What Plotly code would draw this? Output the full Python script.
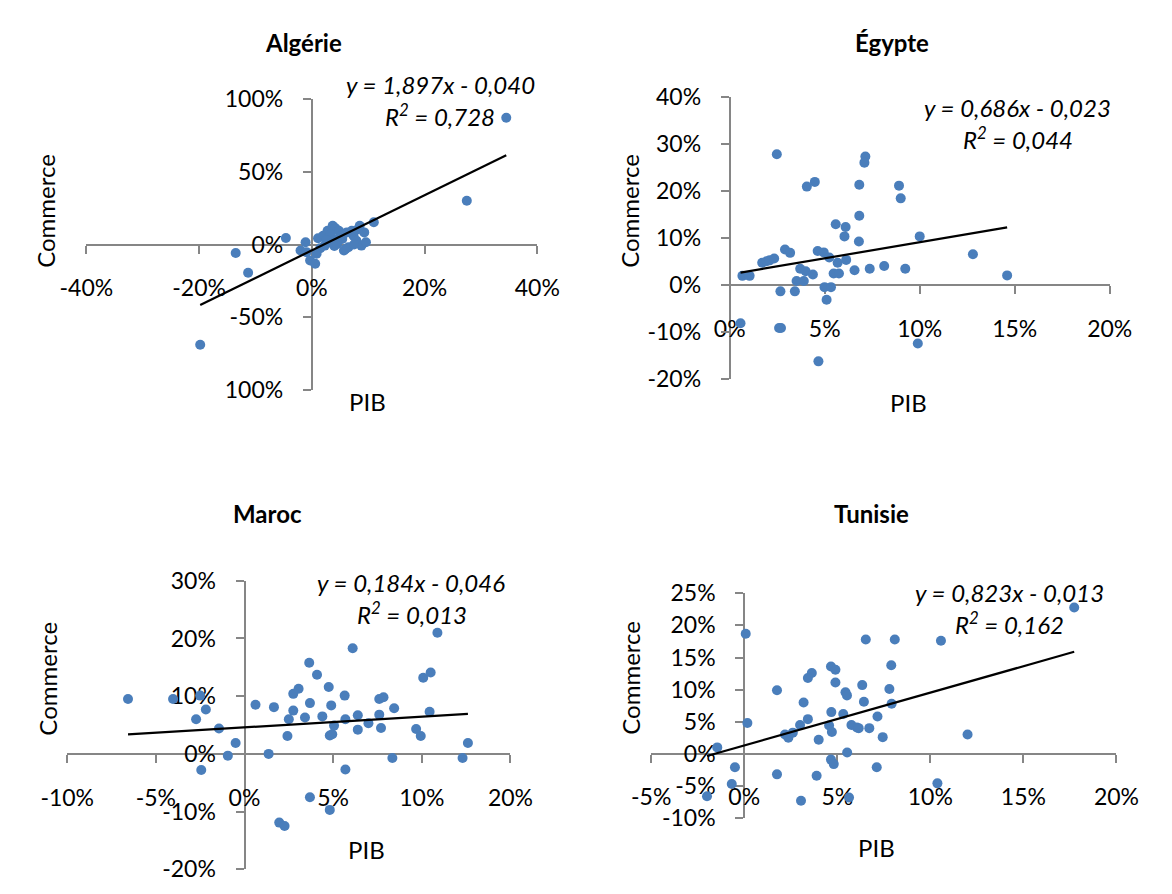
import plotly.graph_objects as go

W, H = 1172, 894

# ---------------- Data (values in %) ----------------
alg_x = [34.5, 27.5, 11.0, -4.6, -13.5, -11.3, -19.8,
         -1.1, -2.0, -0.95, -0.3, 0.6, 0.85, 1.1, 2.0, 2.8, 3.7, 4.2, 4.8, 3.1,
         2.3, 3.7, 5.4, 5.7, 6.5, 7.4, 7.9, 8.5, 8.8, 9.3, 9.6, 7.1, 4.5, 6.2,
         1.5, 3.3, 5.0, 6.0, 7.5, 8.2, 4.0, 2.6]
alg_y = [87.3, 30.2, 15.4, 4.5, -5.8, -19.4, -69.0,
         1.6, -4.1, -5.2, -10.9, -13.2, -6.3, 4.4, 6.1, 9.5, 13.0, 11.2, 9.5, 1.6,
         -0.7, 3.9, 3.9, -4.1, -1.8, 6.1, 2.7, 13.0, -0.7, 8.4, 1.6, 9.5, 0.5, 8.4,
         -2.5, 7.0, 5.5, -3.0, 0.0, 10.5, -1.0, 3.0]

egy_x = [2.48, 0.57, 2.6, 2.7, 4.67, 9.9, 7.14, 7.09, 4.48, 4.06, 6.82, 8.91, 9.0,
         6.82, 5.58, 6.1, 6.04, 6.8, 10.0, 12.8, 14.6, 2.91, 3.18, 4.63, 4.95, 5.24,
         1.71, 1.94, 2.1, 2.34, 5.68, 6.13, 3.71, 4.0, 4.38, 5.47, 5.75, 6.57, 7.37,
         8.13, 9.24, 0.67, 1.05, 3.52, 3.9, 2.67, 3.43, 4.99, 5.33, 5.1]
egy_y = [27.9, -8.1, -9.1, -9.1, -16.2, -12.4, 27.4, 26.1, 22.0, 21.0, 21.4, 21.2, 18.5,
         14.8, 13.0, 12.4, 10.4, 9.3, 10.4, 6.6, 2.1, 7.6, 6.9, 7.3, 7.0, 5.9,
         4.8, 5.1, 5.3, 5.7, 4.8, 5.4, 3.5, 3.0, 2.3, 2.5, 2.5, 3.2, 3.5,
         4.1, 3.5, 2.0, 2.0, 0.9, 0.9, -1.3, -1.3, -0.4, -0.4, -3.1]

mar_x = [-6.57, -4.03, -2.5, -2.73, -2.18, -1.44, -0.5, -0.94, -2.44, 0.62, 1.36, 1.66,
         1.96, 2.26, 2.42, 2.5, 2.75, 2.75, 3.05, 3.41, 3.65, 3.69, 3.69, 4.09, 4.39,
         4.75, 4.89, 4.81, 4.95, 5.05, 4.81, 5.65, 5.69, 5.69, 6.1, 6.39, 6.39, 6.99,
         7.6, 7.84, 7.6, 7.7, 8.44, 8.34, 9.68, 9.94, 10.08, 10.5, 10.44, 10.88, 12.3, 12.6]
mar_y = [9.5, 9.5, 10.1, 6.0, 7.7, 4.4, 1.9, -0.3, -2.8, 8.5, 0.0, 8.1,
         -11.9, -12.5, 3.1, 6.0, 7.5, 10.4, 11.3, 6.3, 15.8, 8.8, -7.5, 13.7, 6.5,
         11.6, 8.4, 3.2, 3.4, 4.9, -9.7, 10.1, 6.0, -2.7, 18.3, 6.7, 4.2, 5.3,
         9.5, 9.8, 6.8, 4.5, 7.9, -0.7, 4.3, 3.1, 13.2, 14.1, 7.3, 21.0, -0.7, 1.9]

tun_x = [17.73, 0.08, 6.53, 8.09, 10.57, 4.66, 4.9, 7.9, 3.63, 3.42, 4.9, 1.76, 6.34,
         7.8, 5.44, 5.52, 3.19, 6.43, 7.92, 4.68, 5.32, 0.17, 3.42, 3.0, 7.16, 5.76,
         6.05, 6.15, 4.56, 4.71, 6.72, 2.19, 2.37, 2.61, 4.0, 7.44, 12.0, -1.45, 5.53,
         4.66, 4.81, -0.5, 1.76, 3.89, 7.12, -0.67, -2.0, 3.05, 5.63, 10.38]
tun_y = [22.8, 18.7, 17.8, 17.8, 17.6, 13.6, 13.1, 13.8, 12.6, 11.8, 11.1, 9.9, 10.7,
         10.1, 9.6, 9.1, 8.0, 8.1, 7.8, 6.5, 6.2, 4.8, 5.4, 4.5, 5.8, 4.5,
         4.1, 4.0, 4.4, 3.4, 4.0, 3.0, 2.5, 3.3, 2.2, 2.6, 3.0, 1.0, 0.2,
         -0.9, -1.6, -2.1, -3.2, -3.4, -2.1, -4.7, -6.6, -7.3, -6.8, -4.6]

titles = ["Algérie", "Égypte", "Maroc", "Tunisie"]
slopes = [1.897, 0.686, 0.184, 0.823]
intercepts = [-4.0, 2.3, 4.6, 1.3]          # as drawn, in %
eq_lines = ["y = 1,897x - 0,040", "y = 0,686x - 0,023", "y = 0,184x - 0,046", "y = 0,823x - 0,013"]
r2_vals = ["0,728", "0,044", "0,013", "0,162"]

alg_xt = [-40, -20, 0, 20, 40]
alg_xl = ["-40%", "-20%", "0%", "20%", "40%"]
alg_yt = [-100, -50, 0, 50, 100]
alg_yl = ["100%", "-50%", "0%", "50%", "100%"]
egy_xt = [0, 5, 10, 15, 20]
egy_xl = ["0%", "5%", "10%", "15%", "20%"]
egy_yt = [-20, -10, 0, 10, 20, 30, 40]
egy_yl = ["-20%", "-10%", "0%", "10%", "20%", "30%", "40%"]
mar_xt = [-10, -5, 0, 5, 10, 15]
mar_xl = ["-10%", "-5%", "0%", "5%", "10%", "20%"]
mar_yt = [-20, -10, 0, 10, 20, 30]
mar_yl = ["-20%", "-10%", "0%", "10%", "20%", "30%"]
tun_xt = [-5, 0, 5, 10, 15, 20]
tun_xl = ["-5%", "0%", "5%", "10%", "15%", "20%"]
tun_yt = [-10, -5, 0, 5, 10, 15, 20, 25]
tun_yl = ["-10%", "-5%", "0%", "5%", "10%", "15%", "20%", "25%"]

# ---------------- Layout helpers ----------------
FONT = "Lato"
FS = 23
AXC = "#868686"
DOT = "#4A7EBB"

panels = [
    dict(x=alg_x, y=alg_y, xr=[-40, 40], yr=[-100, 100], xt=alg_xt, xl=alg_xl, yt=alg_yt, yl=alg_yl,
         box=(62, 533, 87, 387), title=(289, 28), ylab=(20, 202), xlab=(356, 399),
         eq1=(432, 72), eq2=(431, 103)),
    dict(x=egy_x, y=egy_y, xr=[0, 20], yr=[-20, 40], xt=egy_xt, xl=egy_xl, yt=egy_yt, yl=egy_yl,
         box=(734, 1131, 85, 376), title=(904, 28), ylab=(630, 202), xlab=(921, 400),
         eq1=(1035, 95), eq2=(1035, 127)),
    dict(x=mar_x, y=mar_y, xr=[-10, 15], yr=[-20, 30], xt=mar_xt, xl=mar_xl, yt=mar_yt, yl=mar_yl,
         box=(42, 505, 584, 882), title=(251, 515), ylab=(21, 685), xlab=(355, 861),
         eq1=(401, 586), eq2=(402, 617)),
    dict(x=tun_x, y=tun_y, xr=[-5, 20], yr=[-10, 25], xt=tun_xt, xl=tun_xl, yt=tun_yt, yl=tun_yl,
         box=(652, 1138, 597, 829), title=(882, 515), ylab=(630, 684), xlab=(887, 859),
         eq1=(1026, 596), eq2=(1026, 628)),
]

def px(xp):
    return xp / W

def py(yp):
    return 1 - yp / H

fig = go.Figure()
annotations = []
layout_axes = {}

for i, p in enumerate(panels):
    n = "" if i == 0 else str(i + 1)
    xa, ya = "x" + n, "y" + n
    l, r, t, b = p["box"]
    xdom = [px(l), px(r)]
    ydom = [py(b), py(t)]
    xzero = xdom[0] + (0 - p["xr"][0]) / (p["xr"][1] - p["xr"][0]) * (xdom[1] - xdom[0])
    yzero = ydom[0] + (0 - p["yr"][0]) / (p["yr"][1] - p["yr"][0]) * (ydom[1] - ydom[0])

    fig.add_trace(go.Scatter(x=p["x"], y=p["y"], mode="markers", xaxis=xa, yaxis=ya,
                             marker=dict(color=DOT, size=10, line=dict(width=0)),
                             showlegend=False, hoverinfo="skip"))
    xmin, xmax = min(p["x"]), max(p["x"])
    fig.add_trace(go.Scatter(x=[xmin, xmax],
                             y=[slopes[i] * xmin + intercepts[i], slopes[i] * xmax + intercepts[i]],
                             mode="lines", xaxis=xa, yaxis=ya,
                             line=dict(color="black", width=2.2),
                             showlegend=False, hoverinfo="skip"))

    common = dict(showgrid=False, zeroline=False, showline=True, linecolor=AXC, linewidth=2,
                  ticks="outside", ticklen=8, tickwidth=2, tickcolor=AXC,
                  tickfont=dict(family=FONT, size=FS, color="black"),
                  layer="below traces", fixedrange=True, tickmode="array")
    layout_axes["xaxis" + n] = dict(common, domain=xdom, range=p["xr"], anchor="free",
                                    position=yzero, tickvals=p["xt"], ticktext=p["xl"],
                                    ticklabelstandoff=15)
    layout_axes["yaxis" + n] = dict(common, domain=ydom, range=p["yr"], anchor="free",
                                    position=xzero, tickvals=p["yt"], ticktext=p["yl"],
                                    ticklabelstandoff=15)

    def ann(text, pos, size=FS, **kw):
        d = dict(text=text, x=px(pos[0]), y=py(pos[1]), xref="paper", yref="paper",
                 showarrow=False, xanchor="center", yanchor="middle",
                 font=dict(family=FONT, size=size, color="black"))
        d.update(kw)
        annotations.append(d)

    ann("<b>" + titles[i] + "</b>", p["title"], size=24)
    ann("Commerce", p["ylab"], size=24, textangle=-90)
    ann("PIB", p["xlab"], size=24)
    ann("<i>" + eq_lines[i] + "</i>", p["eq1"], size=24)
    ann("<i>R<sup>2</sup> = " + r2_vals[i] + "</i>", p["eq2"], size=24)

fig.update_layout(width=W, height=H, margin=dict(l=0, r=0, t=0, b=0),
                  paper_bgcolor="white", plot_bgcolor="white",
                  font=dict(family=FONT, size=FS, color="black"),
                  annotations=annotations, **layout_axes)

fig.write_html("out.html", config={"displayModeBar": False},
               post_script="document.body.style.margin='0';document.body.style.overflow='hidden';")
